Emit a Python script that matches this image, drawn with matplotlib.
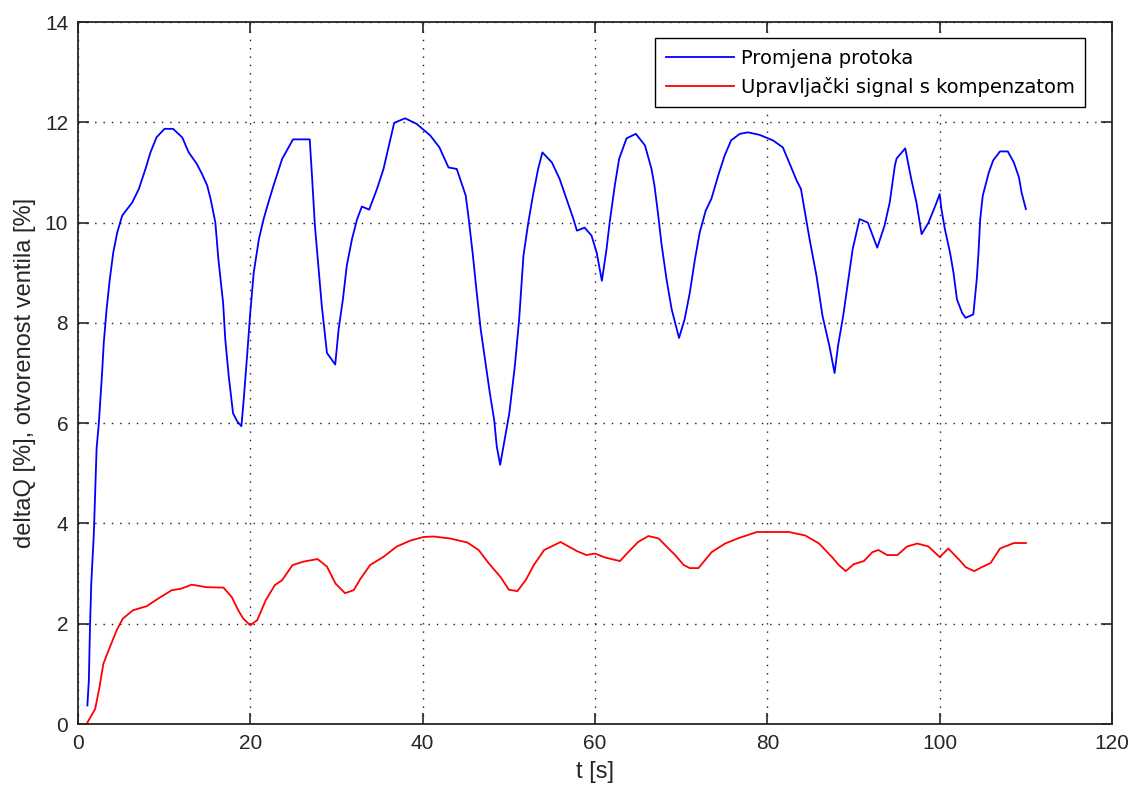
import numpy as np
import matplotlib.pyplot as plt

# Promjena protoka (blue)
t_q = [1.1, 1.27, 1.39, 1.55, 1.85, 2.17, 2.43, 2.83, 3.0, 3.33, 3.7, 4.1, 4.56, 5.14,
       6.3, 7.07, 7.84, 8.42, 9.12, 10.05, 11.05, 12.1, 12.86, 13.8, 14.4, 15.0, 15.4,
       15.95, 16.3, 16.85, 17.1, 17.5, 18.0, 18.47, 18.97, 19.24, 19.63, 20.0, 20.4,
       21.0, 21.55, 22.1, 22.7, 23.7, 24.96, 26.9, 27.16, 27.5, 27.9, 28.3, 28.9, 29.86,
       30.25, 30.75, 31.2, 31.8, 32.4, 32.95, 33.8, 34.7, 35.46, 36.0, 36.7, 37.97,
       39.3, 40.87, 41.95, 43.0, 43.96, 44.35, 45.0, 45.3, 45.8, 46.28, 46.74, 47.24,
       47.8, 48.3, 48.6, 49.0, 49.44, 50.06, 50.7, 51.2, 51.7, 52.26, 52.8, 53.4, 53.9,
       55.0, 55.9, 56.7, 57.5, 57.9, 58.8, 59.6, 60.2, 60.8, 61.34, 61.7, 62.3, 62.8,
       63.66, 64.74, 65.8, 66.56, 66.9, 67.3, 67.7, 68.3, 68.9, 69.75, 70.4, 71.0,
       71.6, 72.15, 72.85, 73.5, 74.3, 75.05, 75.8, 76.8, 77.75, 79.1, 80.65, 81.8,
       82.6, 83.4, 83.9, 84.3, 84.9, 85.7, 86.4, 87.2, 87.8, 88.2, 88.8, 89.3, 89.9,
       90.7, 91.66, 92.75, 93.6, 94.2, 94.8, 95.0, 96.0, 96.7, 97.3, 97.9, 98.7, 99.5,
       100.0, 100.2, 100.6, 101.2, 101.6, 102.0, 102.6, 103.0, 103.9, 104.3, 104.5,
       104.7, 105.0, 105.7, 106.2, 107.0, 107.9, 108.6, 109.2, 109.5, 110.0]
q = [0.37, 0.87, 1.84, 2.8, 3.8, 5.5, 6.0, 7.07, 7.6, 8.27, 8.87, 9.4, 9.8, 10.14,
     10.4, 10.67, 11.07, 11.4, 11.7, 11.87, 11.87, 11.7, 11.4, 11.17, 10.97, 10.74, 10.47,
     10.0, 9.27, 8.4, 7.67, 6.94, 6.2, 6.04, 5.94, 6.47, 7.34, 8.2, 9.0,
     9.67, 10.07, 10.4, 10.74, 11.27, 11.66, 11.66, 10.94, 9.94, 9.14, 8.34, 7.4, 7.17,
     7.87, 8.47, 9.14, 9.67, 10.07, 10.32, 10.26, 10.67, 11.07, 11.47, 11.99, 12.08,
     11.97, 11.74, 11.5, 11.1, 11.07, 10.87, 10.54, 10.14, 9.4, 8.6, 7.87, 7.27,
     6.6, 6.07, 5.54, 5.17, 5.6, 6.2, 7.14, 8.07, 9.34, 10.0, 10.54, 11.07, 11.4,
     11.2, 10.87, 10.47, 10.07, 9.84, 9.9, 9.74, 9.4, 8.84, 9.47, 10.0, 10.74, 11.27,
     11.68, 11.77, 11.54, 11.07, 10.74, 10.2, 9.6, 8.87, 8.27, 7.7, 8.07, 8.6,
     9.27, 9.8, 10.24, 10.47, 10.94, 11.34, 11.64, 11.77, 11.8, 11.75, 11.64, 11.5,
     11.17, 10.84, 10.67, 10.27, 9.67, 8.94, 8.14, 7.54, 7.0, 7.54, 8.14, 8.74, 9.47,
     10.07, 10.0, 9.5, 9.94, 10.4, 11.14, 11.28, 11.48, 10.87, 10.4, 9.77, 10.0, 10.34,
     10.57, 10.27, 9.87, 9.4, 9.0, 8.47, 8.2, 8.1, 8.17, 8.87, 9.4,
     10.07, 10.54, 11.0, 11.24, 11.42, 11.42, 11.2, 10.9, 10.6, 10.27]

# Upravljacki signal (red)
t_u = [1.0, 2.0, 2.5, 2.95, 3.7, 4.5, 5.2, 6.4, 7.98, 9.3, 10.9, 12.0, 13.2, 14.9,
       16.9, 17.86, 18.6, 19.2, 20.0, 20.8, 21.8, 22.85, 23.7, 24.9, 26.2, 27.8, 28.9,
       29.9, 31.0, 32.0, 32.8, 33.9, 35.5, 37.0, 38.6, 40.1, 41.3, 43.2, 45.2, 46.5,
       47.7, 49.05, 50.0, 51.0, 51.96, 52.9, 54.1, 56.0, 57.9, 59.0, 60.0, 61.2, 62.9,
       63.7, 65.0, 66.2, 67.4, 68.3, 69.3, 70.3, 71.0, 72.0, 73.55, 75.1, 76.7, 78.8,
       82.5, 84.4, 86.0, 87.5, 88.3, 89.1, 90.05, 91.2, 92.2, 92.9, 93.9, 95.1, 96.2,
       97.4, 98.7, 100.0, 101.0, 102.4, 103.0, 104.0, 104.9, 105.9, 107.0, 108.6, 110.0]
u = [0.0, 0.3, 0.73, 1.2, 1.53, 1.87, 2.1, 2.27, 2.35, 2.5, 2.67, 2.7, 2.78, 2.73,
     2.72, 2.53, 2.27, 2.1, 1.97, 2.07, 2.47, 2.77, 2.87, 3.17, 3.24, 3.29, 3.14,
     2.8, 2.61, 2.67, 2.9, 3.17, 3.34, 3.54, 3.66, 3.73, 3.74, 3.7, 3.62, 3.47,
     3.2, 2.93, 2.68, 2.65, 2.87, 3.17, 3.47, 3.63, 3.45, 3.37, 3.4, 3.32, 3.25,
     3.4, 3.63, 3.75, 3.7, 3.54, 3.37, 3.17, 3.11, 3.11, 3.43, 3.6, 3.71, 3.83,
     3.83, 3.76, 3.6, 3.33, 3.17, 3.05, 3.19, 3.25, 3.43, 3.47, 3.37, 3.37, 3.54,
     3.6, 3.54, 3.33, 3.5, 3.25, 3.13, 3.05, 3.13, 3.21, 3.5, 3.61, 3.61]

plt.rcParams['font.family'] = ['Liberation Sans', 'DejaVu Sans']

fig = plt.figure(figsize=(11.29, 7.87), dpi=100)
ax = fig.add_axes([0.069, 0.080, 0.916, 0.892])

ax.plot(t_q, q, color='#0000ff', lw=1.3, label='Promjena protoka')
ax.plot(t_u, u, color='#ff0000', lw=1.3, label='Upravljački signal s kompenzatom')

ax.set_xlim(0, 120)
ax.set_ylim(0, 14)
ax.set_xticks(np.arange(0, 121, 20))
ax.set_yticks(np.arange(0, 15, 2))
ax.grid(True, color='#1a1a1a', linestyle=(0, (1, 5)), linewidth=1.0)
ax.tick_params(direction='in', length=8, width=1.2, top=True, right=True,
               labelsize=15, colors='#262626', pad=7)
for s in ax.spines.values():
    s.set_linewidth(1.3)
    s.set_color('#262626')

ax.set_xlabel('t [s]', fontsize=17, labelpad=6, color='#262626')
ax.set_ylabel('deltaQ [%], otvorenost ventila [%]', fontsize=17, labelpad=6,
              color='#262626')

leg = ax.legend(loc='upper right', bbox_to_anchor=(0.974, 0.977), borderaxespad=0,
                prop={'family': 'DejaVu Sans', 'size': 14}, fancybox=False,
                framealpha=1, edgecolor='black', borderpad=0.55,
                handlelength=3.5, handletextpad=0.36, labelspacing=0.45)
leg.get_frame().set_linewidth(1.0)

fig.savefig('out.png', dpi=100)
